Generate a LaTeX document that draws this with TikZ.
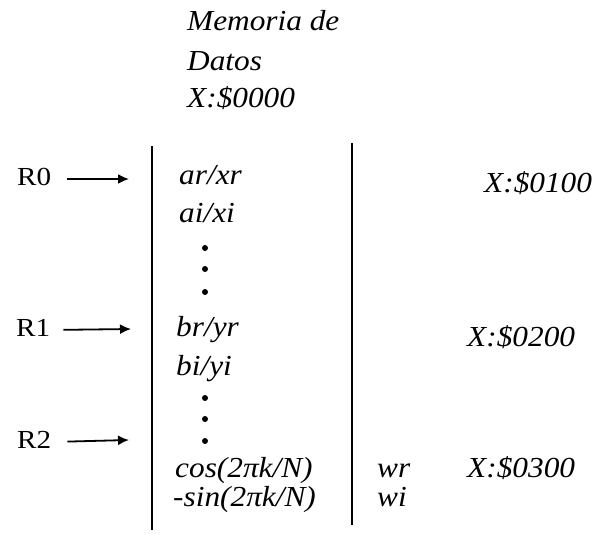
\documentclass[tikz,border=0pt]{standalone}
\usepackage{fontspec}
\setmainfont{Liberation Serif}
\newfontfamily\itf[FakeStretch=1.08]{Liberation Serif}
\newfontfamily\upf[FakeStretch=1.12]{Liberation Serif}
\usetikzlibrary{arrows.meta}
\begin{document}
\begin{tikzpicture}[x=1pt,y=-1pt,
  lbl/.style={font=\itf\fontsize{29}{32}\selectfont\itshape, inner sep=0pt, anchor=west, text height=18pt, text depth=6pt},
  reg/.style={font=\upf\fontsize{26}{29}\selectfont, inner sep=0pt, anchor=west, text height=18pt, text depth=6pt},
  arr/.style={-{Latex[length=11pt,width=10pt]}, line width=1.8pt},
  vline/.style={line width=1.8pt},
  dotn/.style={circle, fill=black, inner sep=0pt, minimum size=6pt}]
\useasboundingbox (0,0) rectangle (595,535);
% header
\node[lbl] (h1) at (187,25) {Memoria de};
\node[lbl] (h2) at (187,65) {Datos};
\node[lbl] (h3) at (187,101) {X:\$0000};
% vertical lines
\draw[vline] (152,146) -- (152,530);
\draw[vline] (352,143) -- (352,525);
% registers
\node[reg] (R0) at (17,179) {R0};
\node[reg] (R1) at (16,330) {R1};
\node[reg] (R2) at (17,442) {R2};
\coordinate (a0) at (129,179);
\coordinate (a1) at (131,329);
\coordinate (a2) at (129,440);
\draw[arr, shorten <=16pt] (R0.east) -- (a0);
\draw[arr, shorten <=13pt] (R1.east) -- (a1);
\draw[arr, shorten <=16pt] (R2.east) -- (a2);
% memory contents
\node[lbl] (arxr) at (179,178) {ar/xr};
\node[lbl] (aixi) at (179,216) {ai/xi};
\node[dotn] (d1) at (205,248) {};
\node[dotn] (d2) at (205,269) {};
\node[dotn] (d3) at (205,292) {};
\node[lbl] (bryr) at (176,330) {br/yr};
\node[lbl] (biyi) at (176,369) {bi/yi};
\node[dotn] (d4) at (205,398) {};
\node[dotn] (d5) at (205,419) {};
\node[dotn] (d6) at (205,441) {};
\node[lbl] (cos) at (175,471) {cos(2πk/N)};
\node[lbl] (sin) at (173,500) {-sin(2πk/N)};
\node[lbl] (wr) at (377,471) {wr};
\node[lbl] (wi) at (377,500) {wi};
% addresses
\node[lbl] (x1) at (484,186) {X:\$0100};
\node[lbl] (x2) at (467,340) {X:\$0200};
\node[lbl] (x3) at (467,471) {X:\$0300};
\end{tikzpicture}
\end{document}
